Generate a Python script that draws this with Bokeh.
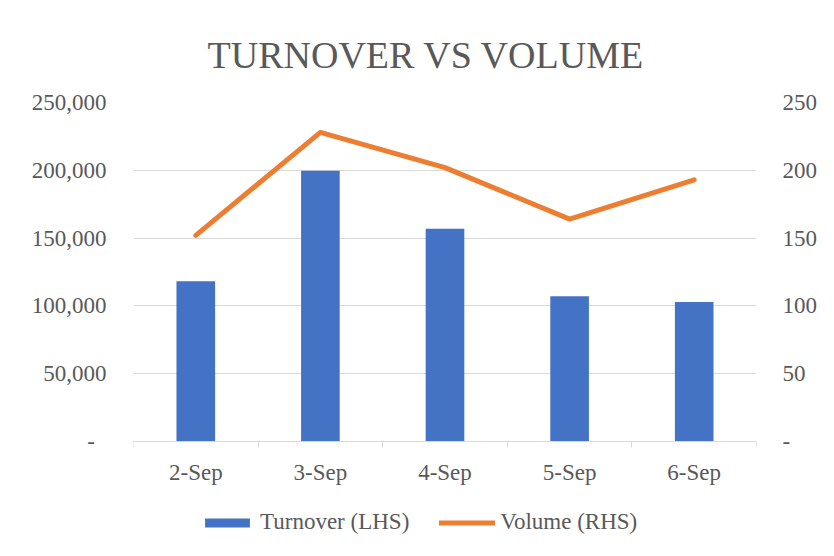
from bokeh.plotting import figure
from bokeh.models import (Range1d, LinearAxis, FixedTicker,
                          NumeralTickFormatter, Legend, LegendItem, ColumnDataSource)
from bokeh.embed import file_html
from bokeh.resources import INLINE

# ---- data ----
dates = ["2-Sep", "3-Sep", "4-Sep", "5-Sep", "6-Sep"]
turnover = [118200, 199600, 156900, 107200, 102800]
volume = [152, 228, 202, 164, 193]
turnover_ticks = [0, 50000, 100000, 150000, 200000, 250000]
volume_ticks = [0, 50, 100, 150, 200, 250]

BLUE = "#4472C4"
ORANGE = "#ED7D31"
GRID = "#D9D9D9"
TEXT = "#595959"
FONT = "Liberation Serif"

# ---- layout (pixels) ----
W, H = 834, 556
TOP, ZERO, BOTTOM = 102, 441, 548       # frame top, value-zero line, frame bottom
below = (BOTTOM - ZERO) / (ZERO - TOP)  # room below zero for labels + legend

n = len(dates)
pos = list(range(n))                      # category slots
edges = [i - 0.5 for i in range(n + 1)]   # category boundaries
src = ColumnDataSource(dict(pos=pos, date=dates, turnover=turnover, volume=volume))

p = figure(x_range=Range1d(edges[0], edges[-1]),
           y_range=Range1d(-turnover_ticks[-1] * below, turnover_ticks[-1]),
           width=W, height=H, output_backend="svg", toolbar_location=None,
           x_axis_location=None, title="TURNOVER VS VOLUME")
p.min_border_left = 133
p.min_border_right = 78
p.min_border_top = TOP
p.min_border_bottom = H - BOTTOM
p.outline_line_color = None
p.background_fill_color = "white"
p.border_fill_color = "white"

p.title.text_font = FONT
p.title.text_font_size = "38px"
p.title.text_font_style = "normal"
p.title.text_color = TEXT
p.title.align = "left"
p.title.offset = 74
p.title.standoff = 53

p.extra_y_ranges = {"vol": Range1d(-volume_ticks[-1] * below, volume_ticks[-1])}

# grid
p.xgrid.visible = False
p.ygrid.ticker = FixedTicker(ticks=turnover_ticks)
p.ygrid.grid_line_color = GRID
p.ygrid.grid_line_width = 1

# left axis
ya = p.yaxis[0]
ya.ticker = FixedTicker(ticks=turnover_ticks)
ya.formatter = NumeralTickFormatter(format="0,0")
ya.major_label_overrides = {0: "-\u00a0\u00a0"}
ya.axis_line_color = None
ya.major_tick_line_color = None
ya.minor_tick_line_color = None
ya.major_tick_out = 0
ya.major_tick_in = 0
ya.major_label_standoff = 27
ya.major_label_text_font = FONT
ya.major_label_text_font_size = "23px"
ya.major_label_text_color = TEXT

# right axis
ra = LinearAxis(y_range_name="vol", ticker=FixedTicker(ticks=volume_ticks),
                major_label_overrides={0: "-"})
ra.axis_line_color = None
ra.major_tick_line_color = None
ra.minor_tick_line_color = None
ra.major_tick_out = 0
ra.major_tick_in = 0
ra.major_label_standoff = 26
ra.major_label_text_font = FONT
ra.major_label_text_font_size = "23px"
ra.major_label_text_color = TEXT
p.add_layout(ra, "right")

# bottom axis at value zero: labels at category centres, tick marks at boundaries
xa = LinearAxis(ticker=FixedTicker(ticks=pos, minor_ticks=edges),
                major_label_overrides={i: d for i, d in zip(pos, dates)},
                fixed_location=0)
xa.axis_line_color = GRID
xa.axis_line_width = 1
xa.major_tick_line_color = None
xa.major_tick_in = 0
xa.major_tick_out = 0
xa.minor_tick_line_color = GRID
xa.minor_tick_in = 0
xa.minor_tick_out = 6
xa.major_label_standoff = 12
xa.major_label_text_font = FONT
xa.major_label_text_font_size = "23px"
xa.major_label_text_color = TEXT
p.add_layout(xa, "below")

bars = p.vbar(x="pos", top="turnover", bottom=0, width=0.31, source=src,
              fill_color=BLUE, line_color=None)
line = p.line(x="pos", y="volume", y_range_name="vol", source=src,
              line_color=ORANGE, line_width=5, line_cap="round", line_join="round")

legend = Legend(items=[LegendItem(label="Turnover (LHS)", renderers=[bars]),
                       LegendItem(label="Volume (RHS)", renderers=[line])],
                orientation="horizontal", location=(66, 13))
legend.glyph_width = 56
legend.glyph_height = 11
legend.label_standoff = 5
legend.spacing = 30
legend.padding = 0
legend.margin = 0
legend.border_line_color = None
legend.background_fill_alpha = 0
legend.label_text_font = FONT
legend.label_text_font_size = "23px"
legend.label_text_color = TEXT
p.add_layout(legend, "center")

open("out.html", "w").write(file_html(p, INLINE))
